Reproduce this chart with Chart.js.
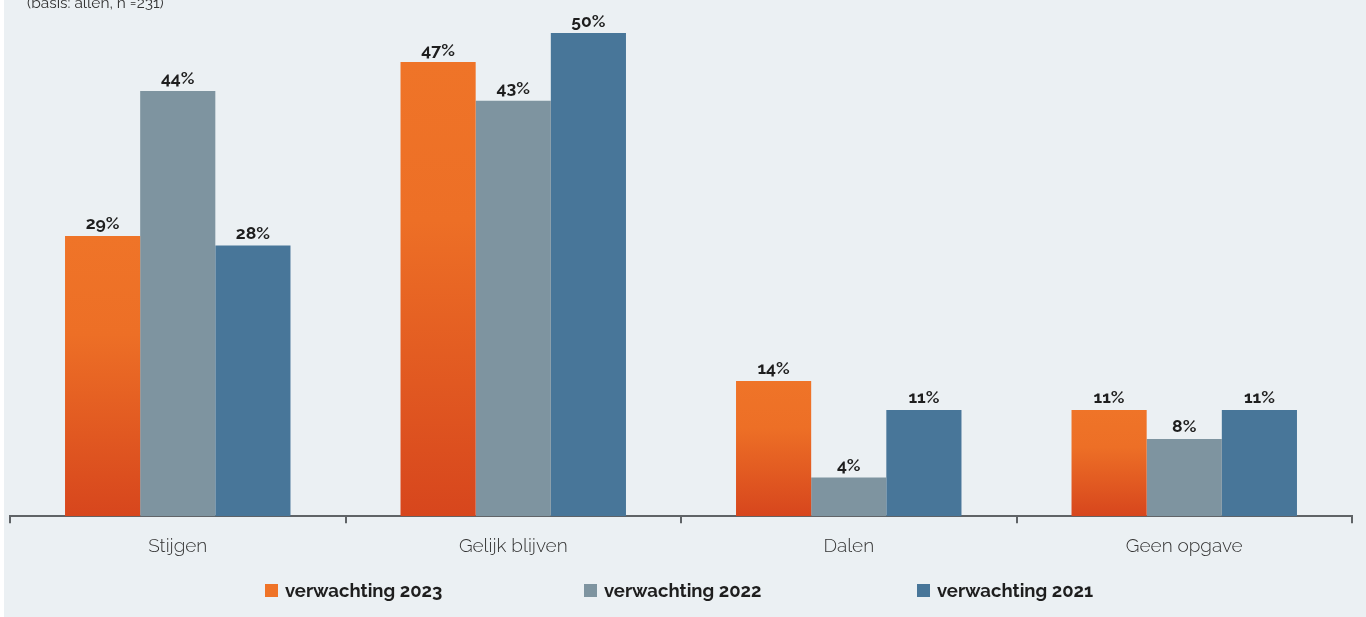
<!DOCTYPE html>
<html>
<head>
<meta charset="utf-8">
<script src="https://cdn.jsdelivr.net/npm/chart.js@4"></script>
<style>
  html, body { margin: 0; padding: 0; background: #ffffff; }
  #wrap { position: relative; width: 1366px; height: 617px; background: #ebf0f3; overflow: hidden; }
  #strip { position: absolute; left: 0; top: 0; width: 4px; height: 617px; background: #ffffff; }
  canvas { position: absolute; left: 0; top: 0; }
  #legend { position: absolute; left: 0; width: 1366px; top: 578px; height: 24px; font-family: Raleway, "Open Sans", Lato, sans-serif; font-weight: 700; font-size: 18.5px; color: #1e1e1e; }
  .item { position: absolute; top: 0; height: 24px; display: flex; align-items: center; white-space: nowrap; }
  .box { width: 13px; height: 13px; margin-right: 7px; }
</style>
</head>
<body>
<div id="wrap">
  <canvas id="c" width="1366" height="617"></canvas>
  <div id="strip"></div>
  <div id="legend"></div>
</div>
<script>
const categories = ["Stijgen", "Gelijk blijven", "Dalen", "Geen opgave"];
const seriesNames = ["verwachting 2023", "verwachting 2022", "verwachting 2021"];
const values2023 = [29, 47, 14, 11];
const values2022 = [44, 43, 4, 8];
const values2021 = [28, 50, 11, 11];
const note = "(basis: allen, n =231)";

const orangeTop = "#ef7327";
const gray = "#7e94a0";
const blue = "#487699";
const FONT = 'Raleway, "Open Sans", Lato, sans-serif';
const legendLefts = [265, 584, 917];

function orangeGradient(ctx) {
  const chart = ctx.chart;
  const area = chart.chartArea;
  if (!area || ctx.type !== 'data') return orangeTop;
  const y = chart.scales.y;
  const top = y.getPixelForValue(ctx.raw);
  const bottom = y.getPixelForValue(0);
  const g = chart.ctx.createLinearGradient(0, top, 0, bottom);
  g.addColorStop(0, "#ef7428");
  g.addColorStop(0.35, "#ed6f26");
  g.addColorStop(1, "#d7461d");
  return g;
}

const labelPlugin = {
  id: 'valueLabels',
  afterDatasetsDraw(chart) {
    const c = chart.ctx;
    c.save();
    c.font = '700 17.5px ' + FONT;
    c.fillStyle = '#1e1e1e';
    c.textAlign = 'center';
    c.textBaseline = 'bottom';
    chart.data.datasets.forEach((ds, i) => {
      const meta = chart.getDatasetMeta(i);
      meta.data.forEach((el, j) => {
        c.fillText(ds.data[j] + '%', el.x, el.y - 3);
      });
    });
    c.restore();
  }
};

const notePlugin = {
  id: 'note',
  afterDraw(chart) {
    const c = chart.ctx;
    c.save();
    c.font = '400 15.5px ' + FONT;
    c.fillStyle = '#333';
    c.textAlign = 'left';
    c.textBaseline = 'alphabetic';
    c.fillText(note, 27, 8);
    c.restore();
  }
};

const chart = new Chart(document.getElementById('c'), {
  type: 'bar',
  data: {
    labels: categories,
    datasets: [
      { label: seriesNames[0], data: values2023, backgroundColor: orangeGradient, legendColor: orangeTop },
      { label: seriesNames[1], data: values2022, backgroundColor: gray, legendColor: gray },
      { label: seriesNames[2], data: values2021, backgroundColor: blue, legendColor: blue }
    ]
  },
  options: {
    responsive: false,
    animation: false,
    events: [],
    layout: { padding: { left: 10, right: 14, top: 33, bottom: 47 } },
    datasets: { bar: { categoryPercentage: 0.672, barPercentage: 1.0 } },
    plugins: { legend: { display: false }, tooltip: { enabled: false } },
    scales: {
      x: {
        border: { display: true, color: '#5f6366', width: 2 },
        grid: { display: true, drawOnChartArea: false, drawTicks: true, tickLength: 7, color: '#5f6366', lineWidth: 2, offset: true },
        ticks: { padding: 12, color: '#333', font: { family: FONT, size: 19, weight: '300' } }
      },
      y: { display: false, min: 0, max: 50 }
    }
  },
  plugins: [labelPlugin, notePlugin]
});

const legend = document.getElementById('legend');
chart.data.datasets.forEach((ds, i) => {
  const item = document.createElement('div');
  item.className = 'item';
  item.style.left = legendLefts[i] + 'px';
  const box = document.createElement('span');
  box.className = 'box';
  box.style.background = ds.legendColor;
  const txt = document.createElement('span');
  txt.textContent = ds.label;
  item.appendChild(box);
  item.appendChild(txt);
  legend.appendChild(item);
});
</script>
</body>
</html>
